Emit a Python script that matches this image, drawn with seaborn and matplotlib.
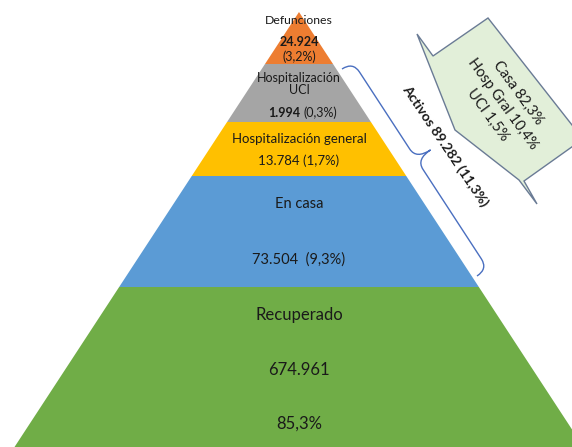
import numpy as np
import matplotlib
matplotlib.use("Agg")
import matplotlib.pyplot as plt
from matplotlib.path import Path
from matplotlib.patches import PathPatch, Polygon
import seaborn as sns

# datos de la piramide (de arriba hacia abajo)
categorias = ["Defunciones", "Hospitalización\nUCI", "Hospitalización general", "En casa", "Recuperado"]
casos = [24924, 1994, 13784, 73504, 674961]
porcentajes = [3.2, 0.3, 1.7, 9.3, 85.3]

activos_total = 89282
activos_pct = 11.3
detalle_activos = ["Casa", "Hosp Gral", "UCI"]
detalle_pct = [82.3, 10.4, 1.5]


def miles(v):
    return f"{v:,}".replace(",", ".")


def pct(p):
    return f"{p:.1f}%".replace(".", ",")


sns.set_theme(style="white")
plt.rcParams["font.family"] = ["Lato", "DejaVu Sans"]
colores = sns.color_palette(["#ED7D31", "#A5A5A5", "#FFC000", "#5B9BD5", "#70AD47"])
txt = "#1a1a1a"

fig = plt.figure(figsize=(5.72, 4.47), dpi=100)
ax = fig.add_axes([0, 0, 1, 1])
ax.set_xlim(0, 572)
ax.set_ylim(447, 0)
ax.axis("off")

# geometria de la piramide (pixeles)
cx, apex = 299, 12
k = 0.654
bordes = [12, 64, 122, 176, 287, 447]

for i, c in enumerate(colores):
    y0, y1 = bordes[i], bordes[i + 1]
    w0, w1 = k * (y0 - apex), k * (y1 - apex)
    ax.fill([cx - w0, cx + w0, cx + w1, cx - w1], [y0, y0, y1, y1], color=c, lw=0)

# textos de cada nivel
ax.text(cx, 21, categorias[0], ha="center", va="center", fontsize=8.8, color=txt)
ax.text(cx, 42, miles(casos[0]), ha="center", va="center", fontsize=9, weight="bold", color=txt)
ax.text(cx, 57, f"({pct(porcentajes[0])})", ha="center", va="center", fontsize=9, color=txt)

ax.text(cx, 84, categorias[1], ha="center", va="center", fontsize=9, color=txt, linespacing=1.1)
ax.text(cx + 1, 113, miles(casos[1]), ha="right", va="center", fontsize=9, weight="bold", color=txt)
ax.text(cx + 4, 113, f"({pct(porcentajes[1])})", ha="left", va="center", fontsize=9, color=txt)

ax.text(cx, 139, categorias[2], ha="center", va="center", fontsize=9.5, color=txt)
ax.text(cx, 161, f"{miles(casos[2])} ({pct(porcentajes[2])})", ha="center", va="center", fontsize=9.5, color=txt)

ax.text(cx, 204, categorias[3], ha="center", va="center", fontsize=10.5, color=txt)
ax.text(cx, 260, f"{miles(casos[3])}  ({pct(porcentajes[3])})", ha="center", va="center", fontsize=10.5, color=txt)

ax.text(cx, 315, categorias[4], ha="center", va="center", fontsize=12, color=txt)
ax.text(cx, 370, miles(casos[4]), ha="center", va="center", fontsize=12, color=txt)
ax.text(cx, 424, pct(porcentajes[4]), ha="center", va="center", fontsize=12, color=txt)

# llave de "Activos" paralela al lado derecho
p0 = np.array([342.0, 69.0])
p1 = np.array([477.0, 276.0])
L = np.linalg.norm(p1 - p0)
e = (p1 - p0) / L
n = np.array([e[1], -e[0]])
d1, d2, r, tL = 13, 30, 12, 0.47 * L
local = [(0, 0), (0, d1), (r, d1), (tL - r, d1), (tL, d1), (tL, d2),
         (tL, d1), (tL + r, d1), (L - r, d1), (L, d1), (L, 0)]
codes = [Path.MOVETO, Path.CURVE3, Path.CURVE3, Path.LINETO, Path.CURVE3, Path.CURVE3,
         Path.CURVE3, Path.CURVE3, Path.LINETO, Path.CURVE3, Path.CURVE3]
verts = [p0 + u * e + v * n for u, v in local]
ax.add_patch(PathPatch(Path(verts, codes), fill=False, ec="#4A6FC0", lw=1.0))

ax.text(445, 146, f"Activos {miles(activos_total)} ({pct(activos_pct)})", rotation=-56,
        rotation_mode="anchor", ha="center", va="center", fontsize=10, weight="bold", color=txt)

# globo con el detalle de activos
globo = [(417, 34), (433, 56), (488, 18), (583, 139), (524, 181), (537, 204),
         (519, 180), (455, 130)]
ax.add_patch(Polygon(globo, closed=True, fc="#E2EFD9", ec="#6A7B95", lw=1.0, clip_on=True))

ang = np.deg2rad(54)
perp = np.array([np.sin(ang), -np.cos(ang)])
centro = np.array([503.0, 104.0])
for j, (nom, p) in enumerate(zip(detalle_activos, detalle_pct)):
    pos = centro + (1 - j) * 19 * perp
    ax.text(pos[0], pos[1], f"{nom} {pct(p)}", rotation=-54, rotation_mode="anchor",
            ha="center", va="center", fontsize=10.5, color=txt)

fig.savefig("out.png", dpi=100)
